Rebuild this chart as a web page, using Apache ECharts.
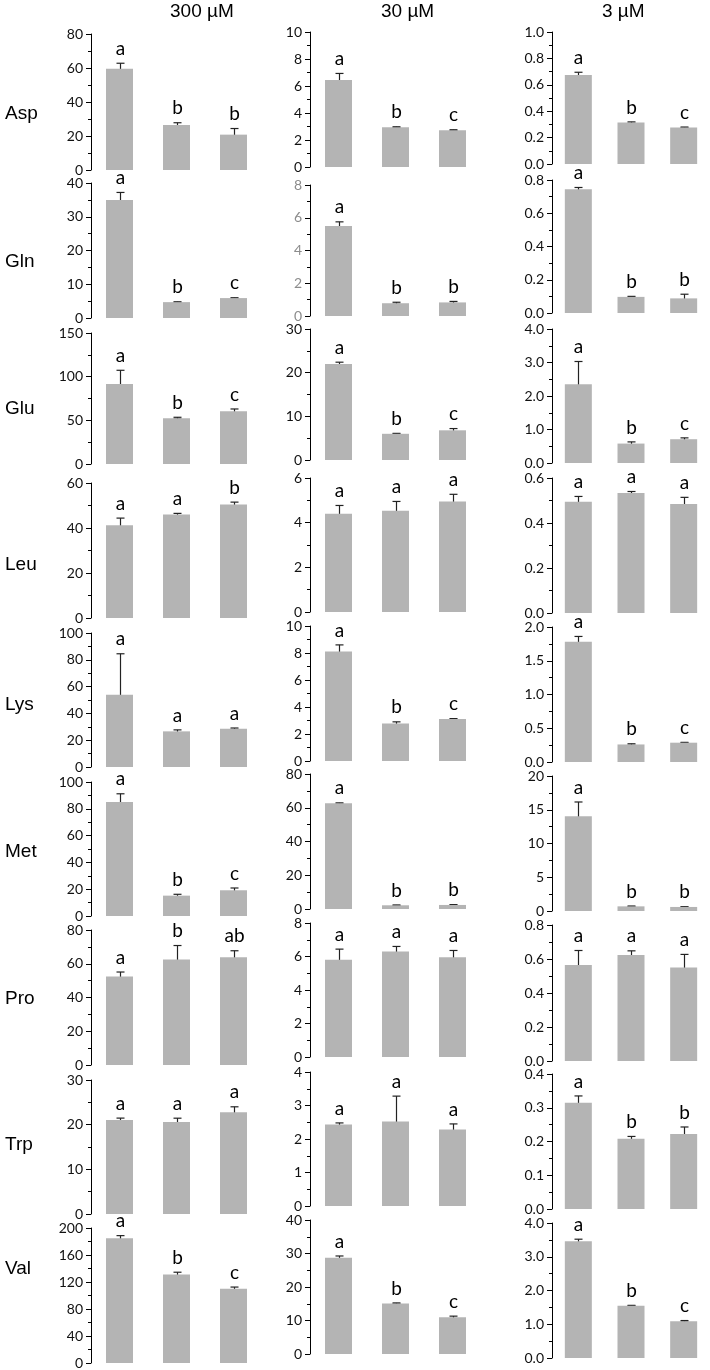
<!DOCTYPE html>
<html>
<head>
<meta charset="utf-8">
<script src="https://cdn.jsdelivr.net/npm/echarts@6/dist/echarts.min.js"></script>
<style>
  html, body { margin: 0; padding: 0; background: #fff; }
  #chart { width: 710px; height: 1370px; }
</style>
</head>
<body>
<div id="chart"></div>
<script>
// columns: 300 µM, 30 µM, 3 µM ; three bars per panel
const concentrations = ['300 µM', '30 µM', '3 µM']
const aminoAcids = ['Asp', 'Gln', 'Glu', 'Leu', 'Lys', 'Met', 'Pro', 'Trp', 'Val']
const groups = ['1', '2', '3']

// axis per panel: [max, interval, decimals]
const aspMean = [[59.5, 26.5, 20.8], [6.45, 2.95, 2.73], [0.675, 0.314, 0.277]]
const aspErr = [[3.3, 1.3, 3.6], [0.48, 0.03, 0.03], [0.02, 0.005, 0.003]]
const aspLetters = [['a', 'b', 'b'], ['a', 'b', 'c'], ['a', 'b', 'c']]
const aspAxis = [[80, 20, 0], [10, 2, 0], [1, 0.2, 1]]

const glnMean = [[35.0, 4.7, 5.9], [5.5, 0.78, 0.83], [0.745, 0.097, 0.088]]
const glnErr = [[2.2, 0.1, 0.1], [0.25, 0.06, 0.06], [0.01, 0.003, 0.025]]
const glnLetters = [['a', 'b', 'c'], ['a', 'b', 'b'], ['a', 'b', 'b']]
const glnAxis = [[40, 10, 0], [8, 2, 0], [0.8, 0.2, 1]]

const gluMean = [[91.5, 52.5, 60.5], [22.0, 6.0, 6.8], [2.35, 0.58, 0.71]]
const gluErr = [[15.8, 1.0, 2.5], [0.4, 0.1, 0.4], [0.68, 0.05, 0.04]]
const gluLetters = [['a', 'b', 'c'], ['a', 'b', 'c'], ['a', 'b', 'c']]
const gluAxis = [[150, 50, 0], [30, 10, 0], [4, 1, 1]]

const leuMean = [[41.2, 46.0, 50.5], [4.4, 4.53, 4.95], [0.494, 0.533, 0.485]]
const leuErr = [[3.2, 0.5, 1.0], [0.37, 0.42, 0.32], [0.024, 0.007, 0.029]]
const leuLetters = [['a', 'a', 'b'], ['a', 'a', 'a'], ['a', 'a', 'a']]
const leuAxis = [[60, 20, 0], [6, 2, 0], [0.6, 0.2, 1]]

const lysMean = [[54.0, 26.6, 28.6], [8.12, 2.77, 3.11], [1.78, 0.26, 0.286]]
const lysErr = [[30.5, 1.1, 0.5], [0.48, 0.13, 0.03], [0.08, 0.01, 0.005]]
const lysLetters = [['a', 'a', 'a'], ['a', 'b', 'c'], ['a', 'b', 'c']]
const lysAxis = [[100, 20, 0], [10, 2, 0], [2, 0.5, 1]]

const metMean = [[85.0, 15.2, 19.2], [62.6, 2.2, 2.4], [14.05, 0.69, 0.6]]
const metErr = [[6.2, 1.0, 1.7], [0.3, 0.2, 0.2], [2.1, 0.05, 0.03]]
const metLetters = [['a', 'b', 'c'], ['a', 'b', 'b'], ['a', 'b', 'b']]
const metAxis = [[100, 20, 0], [80, 20, 0], [20, 5, 0]]

const proMean = [[52.5, 62.5, 63.8], [5.8, 6.3, 5.95], [0.565, 0.623, 0.55]]
const proErr = [[2.6, 8.3, 3.9], [0.64, 0.3, 0.41], [0.085, 0.025, 0.077]]
const proLetters = [['a', 'b', 'ab'], ['a', 'a', 'a'], ['a', 'a', 'a']]
const proAxis = [[80, 20, 0], [8, 2, 0], [0.8, 0.2, 1]]

const trpMean = [[21.07, 20.6, 22.8], [2.43, 2.52, 2.28], [0.315, 0.208, 0.222]]
const trpErr = [[0.4, 0.85, 1.2], [0.05, 0.76, 0.17], [0.02, 0.007, 0.021]]
const trpLetters = [['a', 'a', 'a'], ['a', 'a', 'a'], ['a', 'b', 'b']]
const trpAxis = [[30, 10, 0], [4, 1, 0], [0.4, 0.1, 1]]

const valMean = [[185, 131, 110], [28.76, 15.1, 10.95], [3.46, 1.55, 1.09]]
const valErr = [[3.7, 3.5, 2.5], [0.5, 0.15, 0.35], [0.06, 0.01, 0.02]]
const valLetters = [['a', 'b', 'c'], ['a', 'b', 'c'], ['a', 'b', 'c']]
const valAxis = [[200, 40, 0], [40, 10, 0], [4, 1, 1]]

const means = [aspMean, glnMean, gluMean, leuMean, lysMean, metMean, proMean, trpMean, valMean]
const errs = [aspErr, glnErr, gluErr, leuErr, lysErr, metErr, proErr, trpErr, valErr]
const letters = [aspLetters, glnLetters, gluLetters, leuLetters, lysLetters, metLetters, proLetters, trpLetters, valLetters]
const axes = [aspAxis, glnAxis, gluAxis, leuAxis, lysAxis, metAxis, proAxis, trpAxis, valAxis]

// layout (pixels)
const colLeft = [91, 310, 552]
const colTitleX = [200, 406, 622]
const plotWidth = 171
const plotTop = [[34, 32, 32], [183, 185, 180], [333, 329, 329], [483, 478, 478], [633, 626, 627],
  [782, 774, 776], [930, 923, 925], [1080, 1072, 1074], [1228, 1220, 1223]]
const plotZero = [[170, 167, 164], [318, 316, 313], [464, 460, 463], [618, 612, 613], [767, 761, 762],
  [916, 909, 911], [1065, 1057, 1061], [1214, 1206, 1209], [1363, 1354, 1358]]
const rowLabelY = [115, 263, 410, 566, 706, 853, 1000, 1146, 1270]

const BAR = '#b4b4b4'
const INK = '#111'

function buildOption() {
  const grid = [], xAxis = [], yAxis = [], series = [], graphic = []
  let k = 0
  aminoAcids.forEach((aa, r) => {
    graphic.push({
      type: 'text', left: 5, top: rowLabelY[r] - 11,
      style: { text: aa, fontFamily: 'Liberation Sans', fontSize: 19, fill: '#000' }
    })
    concentrations.forEach((conc, c) => {
      const [max, interval, dec] = axes[r][c]
      grid.push({
        left: colLeft[c], top: plotTop[r][c], width: plotWidth,
        height: plotZero[r][c] - plotTop[r][c]
      })
      xAxis.push({
        gridIndex: k, type: 'category', data: groups, show: false
      })
      yAxis.push({
        gridIndex: k, type: 'value', min: 0, max, interval,
        axisLine: { show: true, lineStyle: { color: '#000', width: 1 } },
        axisTick: { show: true, length: 5, lineStyle: { color: '#000' } },
        minorTick: { show: true, splitNumber: 2, length: 3, lineStyle: { color: '#000' } },
        splitLine: { show: false },
        minorSplitLine: { show: false },
        axisLabel: {
          margin: 8,
          fontFamily: 'Lato', fontSize: 14,
          color: r === 1 && c === 1 ? '#8c8c8c' : INK,
          formatter: (v) => v.toFixed(dec)
        }
      })
      const m = means[r][c], e = errs[r][c], lt = letters[r][c]
      series.push({
        type: 'bar', xAxisIndex: k, yAxisIndex: k,
        barWidth: 27,
        itemStyle: { color: BAR },
        data: m,
        silent: true
      })
      series.push({
        type: 'custom', xAxisIndex: k, yAxisIndex: k,
        clip: false, silent: true,
        data: m.map((v, i) => [i, v, e[i]]),
        renderItem(params, api) {
          const i = api.value(0), v = api.value(1), d = api.value(2)
          const top = api.coord([i, v + d])
          const bot = api.coord([i, v - d])
          const x = Math.round(top[0]) + 0.5, w = 4
          const ln = { stroke: '#222', lineWidth: 1.2 }
          return {
            type: 'group',
            children: [
              { type: 'line', shape: { x1: x, y1: top[1], x2: x, y2: bot[1] }, style: ln },
              { type: 'line', shape: { x1: x - w, y1: top[1], x2: x + w, y2: top[1] }, style: ln },
              { type: 'line', shape: { x1: x - w, y1: bot[1], x2: x + w, y2: bot[1] }, style: ln },
              {
                type: 'text', x, y: top[1] - 5,
                style: {
                  text: lt[params.dataIndex], align: 'center', verticalAlign: 'bottom',
                  fontFamily: 'Lato', fontSize: 19, fill: '#000'
                }
              }
            ]
          }
        }
      })
      k++
    })
  })
  concentrations.forEach((conc, c) => {
    graphic.push({
      type: 'text', left: colTitleX[c] - (conc.length * 10) / 2, top: 2,
      style: { text: conc, fontFamily: 'Liberation Sans', fontSize: 19, fill: '#000' }
    })
  })
  return { animation: false, grid, xAxis, yAxis, series, graphic }
}

const chart = echarts.init(document.getElementById('chart'))
chart.setOption(buildOption())
</script>
</body>
</html>
